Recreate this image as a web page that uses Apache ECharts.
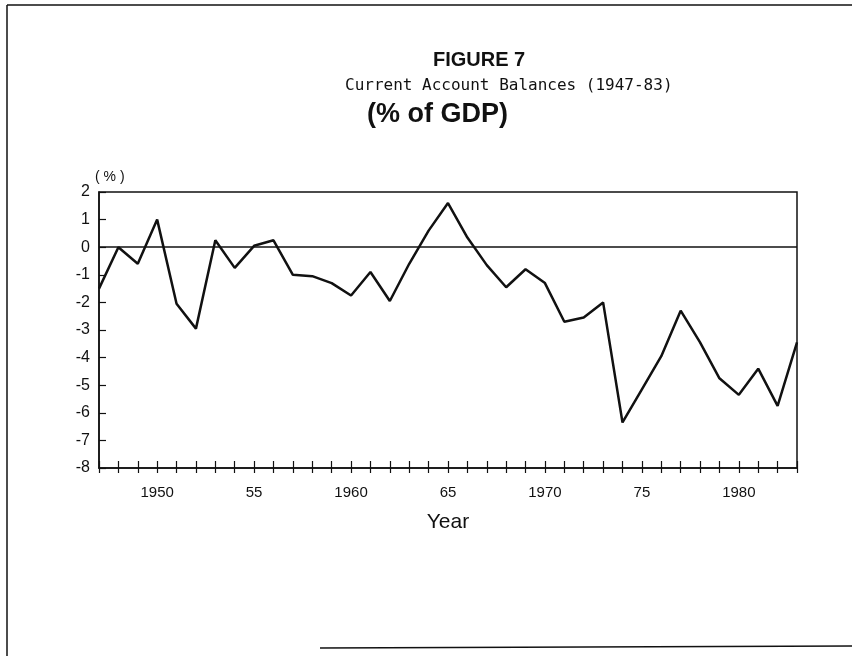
<!DOCTYPE html>
<html>
<head>
<meta charset="utf-8">
<title>Figure 7 - Current Account Balances</title>
<script src="https://cdn.jsdelivr.net/npm/echarts@6/dist/echarts.min.js"></script>
<style>
  html, body { margin: 0; padding: 0; background: #fff; }
  #chart { width: 852px; height: 656px; }
</style>
</head>
<body>
<div id="chart"></div>
<script>
// 年份与经常账户余额（占 GDP 百分比）
const years = [
  1947, 1948, 1949, 1950, 1951, 1952, 1953, 1954, 1955, 1956,
  1957, 1958, 1959, 1960, 1961, 1962, 1963, 1964, 1965, 1966,
  1967, 1968, 1969, 1970, 1971, 1972, 1973, 1974, 1975, 1976,
  1977, 1978, 1979, 1980, 1981, 1982, 1983
]
const balances = [
  -1.5, 0.0, -0.6, 1.0, -2.05, -2.95, 0.25, -0.75, 0.05, 0.25,
  -1.0, -1.05, -1.3, -1.75, -0.9, -1.95, -0.6, 0.6, 1.6, 0.35,
  -0.65, -1.45, -0.8, -1.3, -2.7, -2.55, -2.0, -6.35, -5.15, -3.95,
  -2.3, -3.45, -4.75, -5.35, -4.4, -5.75, -3.45
]

// x 轴刻度标签（只在每 5 年显示）
const yearLabels = { 1950: '1950', 1955: '55', 1960: '1960', 1965: '65', 1970: '1970', 1975: '75', 1980: '1980' }

const ink = '#111'
const sans = '"Liberation Sans", Arial, sans-serif'

const chart = echarts.init(document.getElementById('chart'))

chart.setOption({
  backgroundColor: '#fff',
  animation: false,
  title: [
    { text: 'FIGURE 7', left: 428, top: 45, textStyle: { fontFamily: sans, fontSize: 20, fontWeight: 'bold', color: ink } },
    { text: 'Current Account Balances (1947-83)', left: 340, top: 73, textStyle: { fontFamily: '"DejaVu Sans Mono", monospace', fontSize: 16, fontWeight: 'normal', color: ink } },
    { text: '(% of GDP)', left: 362, top: 96, textStyle: { fontFamily: sans, fontSize: 27, fontWeight: 'bold', color: ink } }
  ],
  grid: {
    left: 99, right: 55, top: 192, bottom: 188,
    show: true, borderColor: ink, borderWidth: 1.5, backgroundColor: 'transparent'
  },
  xAxis: [
    {
      type: 'value', min: 1947, max: 1983, interval: 1, position: 'bottom',
      name: 'Year', nameLocation: 'middle', nameGap: 44,
      nameTextStyle: { fontFamily: sans, fontSize: 21, color: ink },
      axisLine: { onZero: false, lineStyle: { color: ink, width: 1.5 } },
      axisTick: { inside: true, length: 7, lineStyle: { color: ink, width: 1.2 } },
      axisLabel: {
        margin: 17, fontFamily: sans, fontSize: 15, color: ink,
        formatter: v => yearLabels[v] || ''
      },
      splitLine: { show: false }
    },
    {
      // 下半截刻度，使刻度线穿过坐标轴
      type: 'value', min: 1947, max: 1983, interval: 1, position: 'bottom',
      axisLine: { show: false, onZero: false },
      axisTick: { inside: false, length: 5, lineStyle: { color: ink, width: 1.2 } },
      axisLabel: { show: false },
      splitLine: { show: false }
    }
  ],
  yAxis: {
    type: 'value', min: -8, max: 2, interval: 1,
    name: '( % )', nameLocation: 'end', nameGap: 7,
    nameTextStyle: { fontFamily: sans, fontSize: 14, color: ink, align: 'left', padding: [0, 0, 0, -4] },
    axisLine: { show: true, onZero: false, lineStyle: { color: ink, width: 1.5 } },
    axisTick: { show: true, inside: true, length: 7, lineStyle: { color: ink, width: 1.2 } },
    axisLabel: { margin: 9, fontFamily: sans, fontSize: 16, color: ink },
    splitLine: { show: false }
  },
  series: [{
    type: 'line',
    data: years.map((y, i) => [y, balances[i]]),
    showSymbol: false,
    lineStyle: { color: ink, width: 2.5 },
    markLine: {
      silent: true,
      symbol: 'none',
      label: { show: false },
      lineStyle: { color: ink, width: 1.5, type: 'solid' },
      data: [{ yAxis: 0 }]
    }
  }],
  // 扫描页的外框线
  graphic: [
    { type: 'line', shape: { x1: 7, y1: 5, x2: 852, y2: 5 }, style: { stroke: ink, lineWidth: 1.5 } },
    { type: 'line', shape: { x1: 7, y1: 5, x2: 7, y2: 656 }, style: { stroke: ink, lineWidth: 1.5 } },
    { type: 'line', shape: { x1: 320, y1: 648, x2: 852, y2: 646 }, style: { stroke: ink, lineWidth: 1.5 } }
  ]
})
</script>
</body>
</html>
